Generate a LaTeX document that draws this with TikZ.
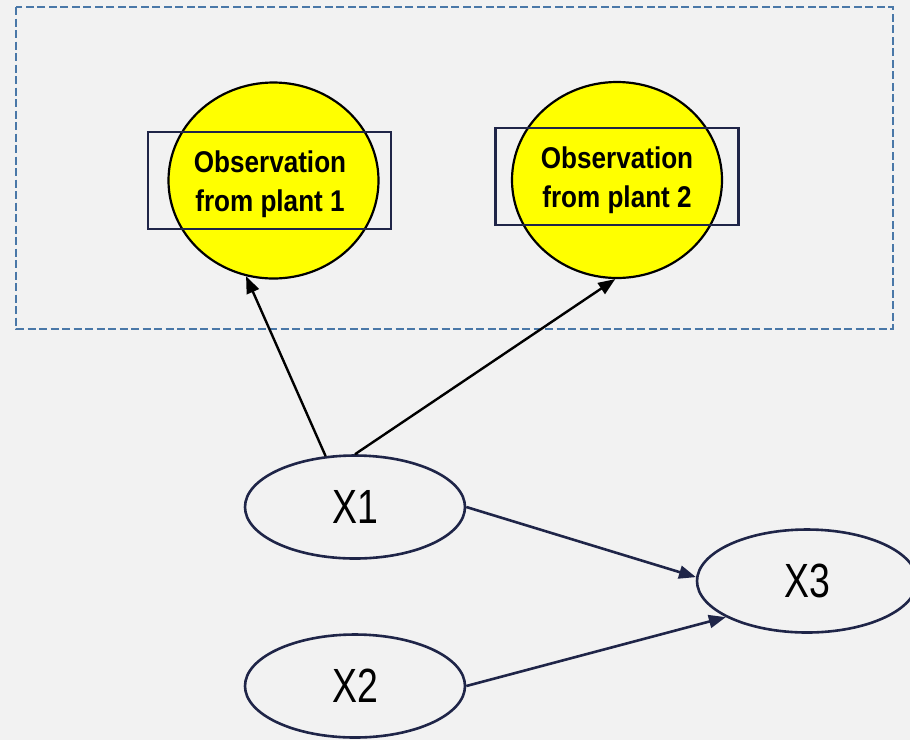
\documentclass[tikz,border=0pt]{standalone}
\usepackage{fontspec}
\usetikzlibrary{shapes.geometric,arrows.meta}
\newfontfamily\obsfont[FakeStretch=0.87]{Liberation Sans Bold}
\newfontfamily\varfont[FakeStretch=0.78]{Liberation Sans}
\definecolor{bgcol}{HTML}{F2F2F2}
\definecolor{navy}{HTML}{1F2548}
\definecolor{frameblue}{HTML}{4A78A8}
\definecolor{obsyellow}{HTML}{FFFF00}
\tikzset{
  obscircle/.style={ellipse, draw=black, line width=2.2pt, fill=obsyellow,
    minimum width=210pt, minimum height=196pt, inner sep=0pt},
  obsbox/.style={rectangle, draw=navy, line width=2.2pt, minimum width=243pt,
    minimum height=97pt, inner sep=0pt},
  obstext/.style={align=center, inner sep=0pt,
    font=\obsfont\fontsize{30}{39}\selectfont},
  varnode/.style={ellipse, draw=navy, line width=2.6pt, minimum width=220pt,
    minimum height=103pt, inner sep=0pt, font=\varfont\fontsize{48}{48}\selectfont},
  blackarrow/.style={draw=black, line width=2.4pt, -{Triangle[length=17pt,width=13pt]}},
  navyarrow/.style={draw=navy, line width=2.6pt, -{Triangle[length=17pt,width=13pt]}},
}
\begin{document}
\begin{tikzpicture}[x=1pt,y=-1pt]
  % canvas
  \fill[bgcol] (0,0) rectangle (910,740);
  \useasboundingbox (0,0) rectangle (910,740);

  % dashed frame round the observations
  \draw[frameblue, line width=2.6pt, dash pattern=on 8pt off 3.5pt] (16,7) rectangle (893,329);

  % observed nodes
  \node[obscircle] (c1) at (273.5,180.5) {};
  \node[obscircle] (c2) at (617,180) {};
  \node[obsbox] (b1) at (269.5,180.5) {};
  \node[obsbox] (b2) at (617,176.5) {};
  \node[obstext] (t1) at (270,184) {Observation\\from plant 1};
  \node[obstext] (t2) at (617,180) {Observation\\from plant 2};

  % latent variables
  \node[varnode] (x1) at (355,507) {X1};
  \node[varnode] (x2) at (355,686) {X2};
  \node[varnode] (x3) at (807,581) {X3};

  % connectors
  \draw[blackarrow] (x1.120.8) -- (c1.254);
  \draw[blackarrow] (x1.90) -- (c2.269);
  \draw[navyarrow] (x1.east) -- (x3.178);
  \draw[navyarrow] (x2.east) -- (x3.204);
\end{tikzpicture}
\end{document}
